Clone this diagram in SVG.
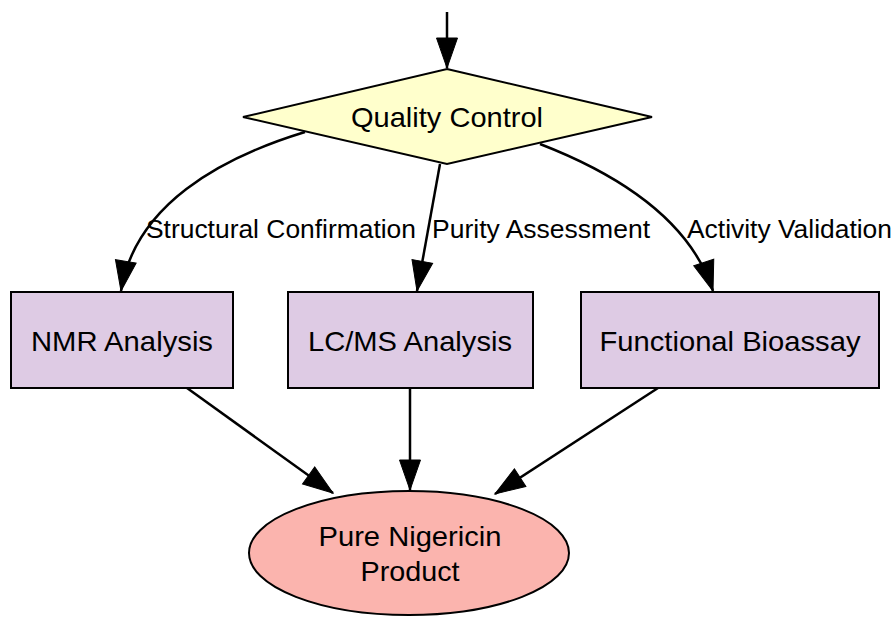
<svg xmlns="http://www.w3.org/2000/svg" width="895" height="618" viewBox="0 0 895 618">
<style>
.node{stroke:#000;stroke-width:2}
.t{font-family:"Liberation Sans",Arial,sans-serif;font-size:28px;fill:#000;text-anchor:middle}
.lbl{font-family:"Liberation Sans",Arial,sans-serif;font-size:26px;fill:#000}
.e{fill:none;stroke:#000;stroke-width:2.5;marker-end:url(#ah)}
</style>
<defs>
<marker id="ah" markerUnits="userSpaceOnUse" markerWidth="34" markerHeight="24" refX="30" refY="10.5" orient="auto" overflow="visible">
<path d="M0,0 L30,10.5 L0,21 z" fill="#000" stroke="#000" stroke-width="1"/>
</marker>
</defs>
<rect width="895" height="618" fill="#fff"/>
<g id="edges">
<path class="e" d="M447,12 L447,68"/>
<path class="e" d="M305,132 C220,158 135,205 121,291"/>
<path class="e" d="M440,164 L417,291"/>
<path class="e" d="M540,144 C620,175 690,220 713,291"/>
<path class="e" d="M187,388 L333,493"/>
<path class="e" d="M410,388 L410,490"/>
<path class="e" d="M658,388 L495,494"/>
<text class="lbl" x="146" y="238" textLength="270" lengthAdjust="spacingAndGlyphs">Structural Confirmation</text>
<text class="lbl" x="432" y="238" textLength="218" lengthAdjust="spacingAndGlyphs">Purity Assessment</text>
<text class="lbl" x="687" y="238" textLength="205" lengthAdjust="spacingAndGlyphs">Activity Validation</text>
</g>
<g id="qc">
<polygon class="node" points="447,69 652,117 447,164 243,117" fill="#ffffcc"/>
<text class="t" x="447" y="127" textLength="192" lengthAdjust="spacingAndGlyphs">Quality Control</text>
</g>
<g id="nmr">
<rect class="node" x="11" y="292" width="222" height="96" fill="#decbe4"/>
<text class="t" x="122" y="351" textLength="182" lengthAdjust="spacingAndGlyphs">NMR Analysis</text>
</g>
<g id="lcms">
<rect class="node" x="288" y="292" width="245" height="96" fill="#decbe4"/>
<text class="t" x="410" y="351" textLength="204" lengthAdjust="spacingAndGlyphs">LC/MS Analysis</text>
</g>
<g id="bioassay">
<rect class="node" x="581" y="292" width="298" height="96" fill="#decbe4"/>
<text class="t" x="730" y="351" textLength="261" lengthAdjust="spacingAndGlyphs">Functional Bioassay</text>
</g>
<g id="product">
<ellipse class="node" cx="409" cy="553" rx="160" ry="62" fill="#fbb4ae"/>
<text class="t" x="410" y="546" textLength="183" lengthAdjust="spacingAndGlyphs">Pure Nigericin</text>
<text class="t" x="410" y="581" textLength="99" lengthAdjust="spacingAndGlyphs">Product</text>
</g>
</svg>
